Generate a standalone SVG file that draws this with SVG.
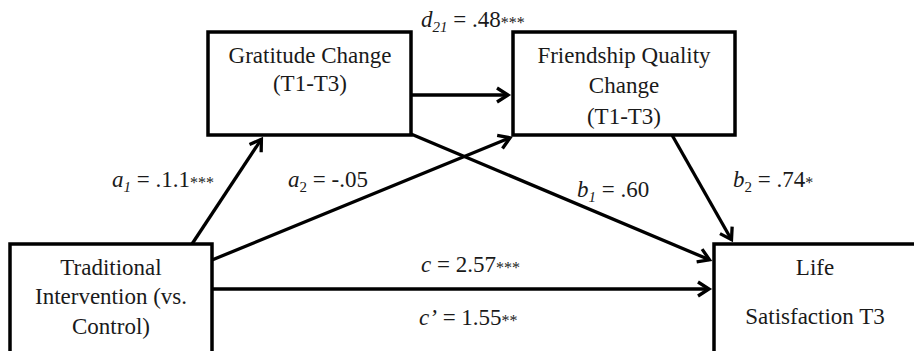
<svg xmlns="http://www.w3.org/2000/svg" width="914" height="351" viewBox="0 0 914 351">
<style>
.box{fill:#fff;stroke:#000;stroke-width:3.5}
.t{font-family:'Liberation Serif',Tinos,'Times New Roman','DejaVu Serif',serif;font-size:23px;fill:#1a1a1a;text-anchor:middle}
.l{font-family:'Liberation Serif',Tinos,'Times New Roman','DejaVu Serif',serif;font-size:23px;fill:#1a1a1a}
.i{font-style:italic}
.s{font-size:15px}
.a{font-size:16px}
.edge{stroke:#000;stroke-width:3.3;fill:none;marker-end:url(#arr)}
</style>
<defs>
<marker id="arr" markerUnits="userSpaceOnUse" viewBox="-14 -10 18 20" refX="0" refY="0" markerWidth="18" markerHeight="20" orient="auto">
<path d="M-11,-7 L0,0 L-11,7" fill="none" stroke="#000" stroke-width="3.3" stroke-linejoin="miter"/>
</marker>
</defs>
<g id="connectors">
<line class="edge" x1="192" y1="244" x2="261.4" y2="139.2"/>
<line class="edge" x1="212" y1="260" x2="510" y2="137.8"/>
<line class="edge" x1="411" y1="95" x2="508" y2="95"/>
<line class="edge" x1="411" y1="134" x2="709.5" y2="259.8"/>
<line class="edge" x1="672" y1="135" x2="731.5" y2="239.7"/>
<line class="edge" x1="212" y1="289" x2="709" y2="289"/>
</g>
<g id="gratitude">
<rect class="box" x="208" y="32" width="203" height="103"/>
<text class="t" x="310" y="63">Gratitude Change</text>
<text class="t" x="310" y="91">(T1-T3)</text>
</g>
<g id="friendship">
<rect class="box" x="513" y="32" width="222" height="103"/>
<text class="t" x="624" y="63">Friendship Quality</text>
<text class="t" x="624" y="93">Change</text>
<text class="t" x="624" y="124">(T1-T3)</text>
</g>
<g id="traditional">
<rect class="box" x="10" y="244" width="202" height="130"/>
<text class="t" x="111" y="275">Traditional</text>
<text class="t" x="111" y="304">Intervention (vs.</text>
<text class="t" x="111" y="334">Control)</text>
</g>
<g id="life">
<rect class="box" x="714" y="244" width="220" height="130"/>
<text class="t" x="815" y="275">Life</text>
<text class="t" x="815" y="324">Satisfaction T3</text>
</g>
<g id="labels">
<text class="l" x="421" y="27"><tspan class="i">d</tspan><tspan class="i s" dy="5">21</tspan><tspan dy="-5"> = .48</tspan><tspan class="a" dy="1">***</tspan></text>
<text class="l" x="112" y="187"><tspan class="i">a</tspan><tspan class="i s" dy="5">1</tspan><tspan dy="-5"> = .1.1</tspan><tspan class="a" dy="1">***</tspan></text>
<text class="l" x="288" y="187"><tspan class="i">a</tspan><tspan class="s" dy="5">2</tspan><tspan dy="-5"> = -.05</tspan></text>
<text class="l" x="577" y="197"><tspan class="i">b</tspan><tspan class="i s" dy="5">1</tspan><tspan dy="-5"> = .60</tspan></text>
<text class="l" x="733" y="187"><tspan class="i">b</tspan><tspan class="s" dy="5">2</tspan><tspan dy="-5"> = .74</tspan><tspan class="a" dy="1">*</tspan></text>
<text class="l" x="421" y="272"><tspan class="i">c</tspan> = 2.57<tspan class="a" dy="1">***</tspan></text>
<text class="l" x="419" y="325"><tspan class="i">c’</tspan> = 1.55<tspan class="a" dy="1">**</tspan></text>
</g>
</svg>
